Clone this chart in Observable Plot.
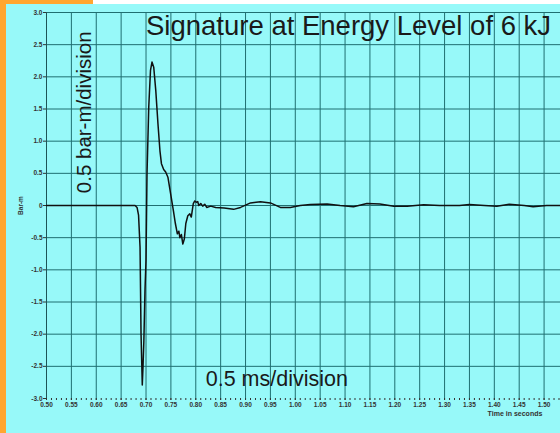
<!DOCTYPE html>
<html>
<head>
<meta charset="utf-8">
<script src="https://cdn.jsdelivr.net/npm/d3@7"></script>
<script src="https://cdn.jsdelivr.net/npm/@observablehq/plot@0.6"></script>
<style>
  html, body { margin: 0; padding: 0; background: #97f9f9; }
  #wrap { position: relative; width: 560px; height: 433px; background: #97f9f9; overflow: hidden; }
  #topwhite { position: absolute; left: 0; top: 0; width: 560px; height: 4px; background: #ffffff; }
  #toporange { position: absolute; left: 0; top: 0; width: 93px; height: 4px; background: #ffa62f; }
  #leftorange { position: absolute; left: 0; top: 0; width: 6px; height: 433px; background: #ffa62f; }
  #chart { position: absolute; left: 0; top: 0; }
</style>
</head>
<body>
<div id="wrap">
  <div id="topwhite"></div>
  <div id="toporange"></div>
  <div id="leftorange"></div>
  <div id="chart"></div>
</div>
<script>
// Time (seconds)
const time = [0.50, 0.60, 0.67, 0.678, 0.682, 0.685, 0.688, 0.690, 0.6925, 0.694, 0.6957, 0.698, 0.700,
  0.702, 0.7055, 0.709, 0.712, 0.7155, 0.7196, 0.724, 0.728, 0.731, 0.7355, 0.7395, 0.744, 0.7495,
  0.755, 0.759, 0.763, 0.766, 0.768, 0.771, 0.774, 0.777, 0.780, 0.784, 0.788, 0.791, 0.795, 0.798,
  0.801, 0.804, 0.806, 0.810, 0.814, 0.818, 0.822, 0.830, 0.840, 0.857, 0.876, 0.89, 0.91, 0.93,
  0.95, 0.97, 0.99, 1.01, 1.03, 1.064, 1.09, 1.117, 1.144, 1.17, 1.198, 1.225, 1.258, 1.29, 1.33,
  1.35, 1.38, 1.405, 1.43, 1.46, 1.478, 1.505, 1.533];
// Pressure (Bar-m)
const pressure = [0, 0, 0, 0, -0.03, -0.15, -0.65, -2.0, -2.79, -2.5, -2.1, -1.3, -0.85,
  0.49, 1.53, 2.1, 2.23, 2.15, 1.79, 1.27, 0.85, 0.65, 0.56, 0.52, 0.44, 0.18,
  -0.08, -0.28, -0.44, -0.40, -0.5, -0.45, -0.6, -0.52, -0.28, -0.16, -0.13, -0.18, 0.03, 0.07,
  0.05, 0.06, 0.0, 0.03, -0.01, 0.02, -0.03, -0.01, -0.03, -0.04, -0.06, -0.03, 0.04, 0.06,
  0.04, -0.03, -0.03, 0, 0.015, 0.025, 0, -0.02, 0.03, 0.025, -0.01, -0.01, 0.01, 0, 0,
  0.015, 0, -0.01, 0.02, 0, -0.02, 0, 0];

const xMajorTicks = d3.range(10, 31).map(i => i / 20);      // 0.50 .. 1.50
const xMinorTicks = d3.range(50, 154).map(i => i / 100);    // every 0.01
const yTicks = d3.range(-6, 7).map(i => i / 2);             // -3.0 .. 3.0

const titleText = ["Signature at Energy Level of 6 kJ"];
const yDivText = ["0.5 bar-m/division"];
const xDivText = ["0.5 ms/division"];
const yLabelText = ["Bar-m"];
const xLabelText = ["Time in seconds"];

const data = time.map((t, i) => ({t, v: pressure[i]}));
const gridColor = "#1f6f71";
const font = "'Liberation Sans', Arial, Helvetica, sans-serif";

const chart = Plot.plot({
  width: 560,
  height: 433,
  marginLeft: 46,
  marginRight: 0,
  marginTop: 12,
  marginBottom: 35,
  x: {domain: [0.5, 1.533], label: null},
  y: {domain: [-3, 3], label: null},
  style: {background: "transparent", fontFamily: font},
  marks: [
    Plot.gridX(xMajorTicks.filter(d => d > 0.5), {stroke: gridColor, strokeOpacity: 1, strokeWidth: 1}),
    Plot.gridY(yTicks.filter(d => d > -3), {stroke: gridColor, strokeOpacity: 1, strokeWidth: 1}),
    Plot.ruleX([0.5], {stroke: "#1d5557", strokeWidth: 1}),
    Plot.axisX(xMinorTicks, {tickSize: 2, tickFormat: () => "", color: "#333", label: null}),
    Plot.axisX(xMajorTicks, {tickSize: 2, tickPadding: 1.5, tickFormat: d => d.toFixed(2),
      fontSize: 6.5, fontWeight: "bold", color: "#333", label: null}),
    Plot.axisY(yTicks, {tickSize: 3, tickPadding: 1, tickFormat: d => d === 0 ? "0" : d.toFixed(1),
      fontSize: 6.5, fontWeight: "bold", color: "#333", label: null}),
    Plot.line(data, {x: "t", y: "v", stroke: "#111", strokeWidth: 1.5}),
    Plot.text(titleText, {x: [0.70], y: [2.795], text: d => d, textAnchor: "start",
      fontSize: 27.5, fill: "#1a1a1a"}),
    Plot.text(xDivText, {x: [0.82], y: [-2.691], text: d => d, textAnchor: "start",
      fontSize: 21.5, fill: "#1a1a1a"}),
    Plot.text(yDivText, {x: [0.5757], y: [0.191], text: d => d, textAnchor: "start",
      rotate: -90, fontSize: 20.5, fill: "#1a1a1a"}),
    Plot.text(yLabelText, {x: [0.4476], y: [0], text: d => d, textAnchor: "middle",
      rotate: -90, fontSize: 6.5, fontWeight: "bold", fill: "#333"}),
    Plot.text(xLabelText, {x: [1.3865], y: [-3.2305], text: d => d, textAnchor: "start",
      fontSize: 7, fontWeight: "bold", fill: "#333"})
  ]
});
document.getElementById("chart").appendChild(chart);
</script>
</body>
</html>
